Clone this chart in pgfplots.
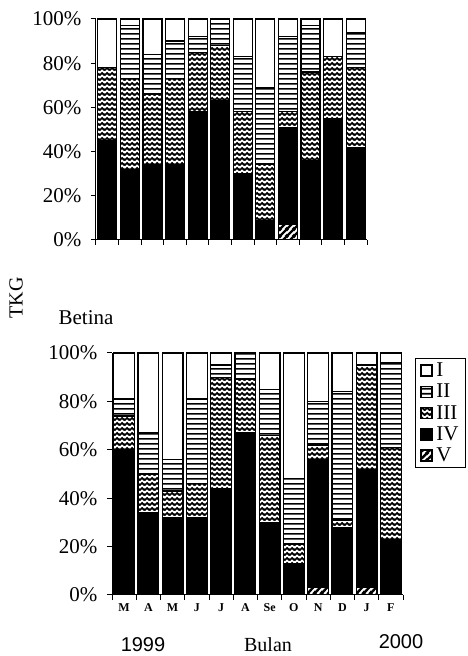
\documentclass[border=0pt]{standalone}
\usepackage{fontspec}
\setmainfont{Liberation Serif}
\setsansfont{Liberation Sans}
\usepackage{pgfplots}
\usepackage{pgfplotstable}
\pgfplotsset{compat=1.18}
\usetikzlibrary{patterns}

\pgfdeclarepatternformonly{hlinesx}{\pgfqpoint{0pt}{0pt}}{\pgfqpoint{5pt}{5pt}}{\pgfqpoint{5pt}{5pt}}{%
  \pgfsetlinewidth{1.8pt}%
  \pgfpathmoveto{\pgfqpoint{-1pt}{2.5pt}}%
  \pgfpathlineto{\pgfqpoint{6pt}{2.5pt}}%
  \pgfusepath{stroke}}

\pgfdeclarepatternformonly{zigzagx}{\pgfqpoint{0pt}{0pt}}{\pgfqpoint{5pt}{5pt}}{\pgfqpoint{5pt}{5pt}}{%
  \pgfsetlinewidth{2pt}%
  \pgfsetmiterjoin
  \pgfpathmoveto{\pgfqpoint{-2.5pt}{3.6pt}}%
  \pgfpathlineto{\pgfqpoint{0pt}{1.2pt}}%
  \pgfpathlineto{\pgfqpoint{2.5pt}{3.6pt}}%
  \pgfpathlineto{\pgfqpoint{5pt}{1.2pt}}%
  \pgfpathlineto{\pgfqpoint{7.5pt}{3.6pt}}%
  \pgfusepath{stroke}}

\pgfdeclarepatternformonly{diagx}{\pgfqpoint{0pt}{0pt}}{\pgfqpoint{7pt}{7pt}}{\pgfqpoint{7pt}{7pt}}{%
  \pgfsetlinewidth{2.6pt}%
  \pgfpathmoveto{\pgfqpoint{-1pt}{-1pt}}\pgfpathlineto{\pgfqpoint{8pt}{8pt}}%
  \pgfpathmoveto{\pgfqpoint{-2pt}{5pt}}\pgfpathlineto{\pgfqpoint{2pt}{9pt}}%
  \pgfpathmoveto{\pgfqpoint{5pt}{-2pt}}\pgfpathlineto{\pgfqpoint{9pt}{2pt}}%
  \pgfusepath{stroke}}

\pgfplotstableread{
x V IV III II I
0 0 45 33 0 22
1 0 32 41 24 3
2 0 34 32 18 16
3 0 34 39 17 10
4 0 58 27 7 8
5 0 63 25 12 0
6 0 30 28 25 17
7 0 9 25 35 31
8 7 44 7 34 8
9 0 36 40 21 3
10 0 55 28 0 17
11 0 42 36 16 6
}\jantan

\pgfplotstableread{
x V IV III II I
0 0 60 14 7 19
1 0 34 16 17 33
2 0 32 11 13 44
3 0 32 14 35 19
4 0 44 46 5 5
5 0 67 22 11 0
6 0 30 36 19 15
7 0 13 8 27 52
8 3 53 6 18 20
9 0 28 3 53 16
10 3 49 43 0 5
11 0 23 38 35 4
}\betina

\newcommand\fa{\fontsize{21}{24}\selectfont}

\pgfplotsset{
  mybars/.style={
    ybar stacked, scale only axis,
    xmin=-0.5, xmax=11.5, ymin=0, ymax=100,
    axis x line=bottom, axis y line=left,
    axis line style={-, line width=1pt},
    tick align=outside,
    major tick length=5pt,
    tick style={black, line width=1pt},
    xtick={-0.5,0.5,...,11.5}, xticklabels={},
    ytick={0,20,...,100},
    yticklabel={\pgfmathprintnumber{\tick}\%},
    /pgf/number format/assume math mode=true,
    yticklabel style={font=\fa, xshift=-6pt},
    every axis plot/.append style={draw=black, line width=1.2pt},
    legend image code/.code={\draw[##1,line width=1.6pt] (0pt,-5.5pt) rectangle (11pt,5.5pt);},
  }
}

\begin{document}
\begin{tikzpicture}
\useasboundingbox (0pt,0pt) rectangle (467pt,656pt);

\begin{axis}[mybars, at={(96pt,416pt)}, anchor=south west,
  width=271pt, height=221pt, bar width=0.84]
\addplot[pattern=diagx] table[x=x,y=V]{\jantan};
\addplot[fill=black] table[x=x,y=IV]{\jantan};
\addplot[pattern=zigzagx] table[x=x,y=III]{\jantan};
\addplot[pattern=hlinesx] table[x=x,y=II]{\jantan};
\addplot[fill=white] table[x=x,y=I]{\jantan};
\end{axis}

\begin{axis}[mybars, at={(112pt,61pt)}, anchor=south west,
  width=291pt, height=242pt, bar width=0.86,
  extra x ticks={0,...,11},
  extra x tick labels={M,A,M,J,J,A,Se,O,N,D,J,F},
  extra x tick style={major tick length=0pt, tick label style={font=\fontsize{12}{12}\selectfont\bfseries, yshift=-5pt}},
  reverse legend,
  legend style={at={(1.041,0.979)}, anchor=north west, draw=black, line width=0.8pt,
    font=\fa, inner xsep=5pt, inner ysep=3pt, row sep=3pt,
    nodes={inner sep=1.5pt}, legend cell align=left,
    /tikz/every odd column/.append style={column sep=2pt}},
  ]
\addplot[pattern=diagx] table[x=x,y=V]{\betina};
\addlegendentry{V}
\addplot[fill=black] table[x=x,y=IV]{\betina};
\addlegendentry{IV}
\addplot[pattern=zigzagx] table[x=x,y=III]{\betina};
\addlegendentry{III}
\addplot[pattern=hlinesx] table[x=x,y=II]{\betina};
\addlegendentry{II}
\addplot[fill=white] table[x=x,y=I]{\betina};
\addlegendentry{I}
\end{axis}

\node[rotate=90, font=\fontsize{20}{20}\selectfont] at (16pt,358pt) {TKG};
\node[font=\fa] at (86pt,338pt) {Betina};
\node[font=\sffamily\fontsize{20}{20}\selectfont] at (143pt,11pt) {1999};
\node[font=\fontsize{20}{20}\selectfont] at (268pt,11pt) {Bulan};
\node[font=\sffamily\fontsize{20}{20}\selectfont] at (401pt,14pt) {2000};
\end{tikzpicture}
\end{document}
